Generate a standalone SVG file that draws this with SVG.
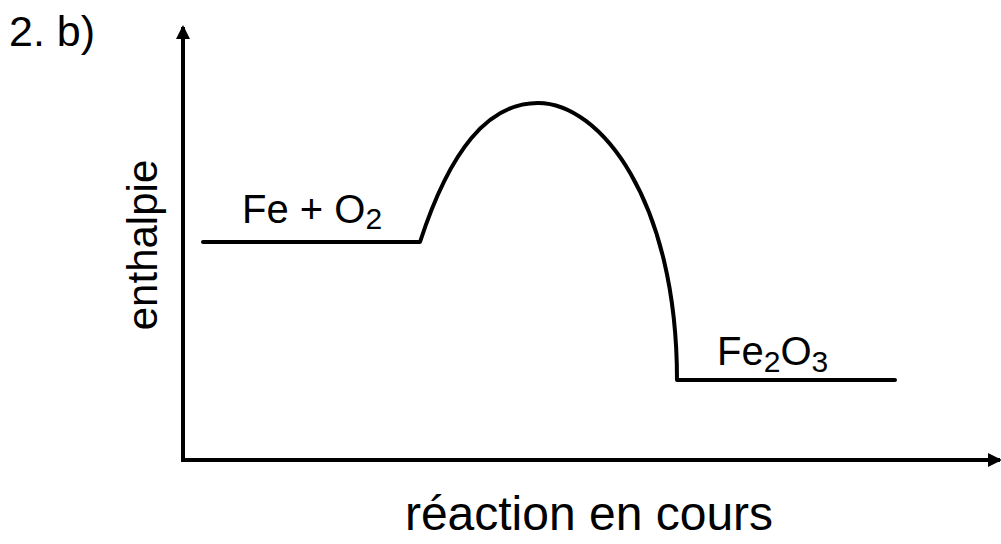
<svg xmlns="http://www.w3.org/2000/svg" width="1001" height="544" viewBox="0 0 1001 544">
<style>
text{font-family:"Liberation Sans",Arial,sans-serif;fill:#000}
.ax{stroke:#000;stroke-width:4;fill:none}
.cv{stroke:#000;stroke-width:4;fill:none;stroke-linecap:round;stroke-linejoin:round}
</style>
<defs>
<marker id="ah" markerUnits="userSpaceOnUse" markerWidth="14" markerHeight="14" refX="12" refY="7" orient="auto">
<path d="M0,0 L14,7 L0,14 Z" fill="#000"/>
</marker>
</defs>
<rect width="1001" height="544" fill="#fff"/>
<text x="9" y="46" font-size="43">2. b)</text>
<g id="axes">
<line class="ax" x1="183" y1="460" x2="183" y2="27" marker-end="url(#ah)"/>
<line class="ax" x1="181" y1="460" x2="1000" y2="460" marker-end="url(#ah)"/>
</g>
<text transform="translate(157,245) rotate(-90)" text-anchor="middle" font-size="42">enthalpie</text>
<text x="589" y="530" text-anchor="middle" font-size="48">réaction en cours</text>
<g id="reactants"><text x="242" y="223" font-size="40">Fe + O<tspan font-size="30" dy="6">2</tspan></text></g>
<g id="products"><text x="717" y="365" font-size="40">Fe<tspan font-size="30" dy="7">2</tspan><tspan dy="-7">O</tspan><tspan font-size="30" dy="7">3</tspan></text></g>
<g id="profile">
<path class="cv" d="M203,242 L420,242 C450,150 488,103 538,103 C600,103 677,200 677,380 L895,380"/>
</g>
</svg>
